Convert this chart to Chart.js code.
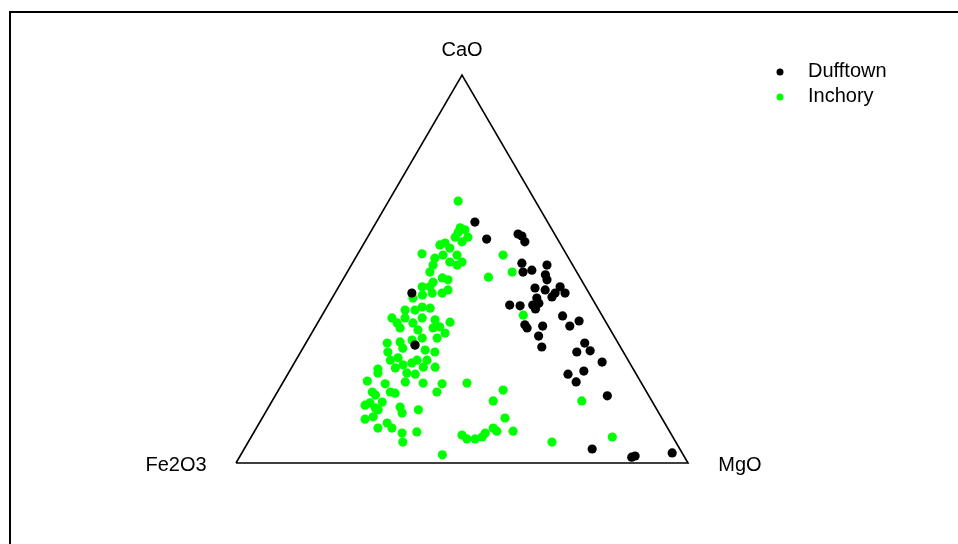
<!DOCTYPE html>
<html>
<head>
<meta charset="utf-8">
<script src="https://cdn.jsdelivr.net/npm/chart.js@4.4.1/dist/chart.umd.min.js"></script>
<style>
  body { margin: 0; background: #fff; }
  #wrap { width: 958px; height: 544px; }
</style>
</head>
<body>
<div id="wrap"><canvas id="myChart" width="958" height="544"></canvas></div>
<script>
// ternary diagram: CaO top, Fe2O3 left, MgO right
var groupNames = ['Dufftown', 'Inchory'];
var groupColors = ['#000000', '#00ff00'];
var vertexNames = ['CaO', 'Fe2O3', 'MgO'];

// each sample is [CaO %, MgO %], Fe2O3 % is the remainder
var dufftown = [
  [62.1, 21.8], [57.7, 26.6], [59.0, 32.9], [58.5, 34.0], [57.0, 35.4],
  [51.5, 37.5], [49.2, 38.9], [49.7, 40.6], [51.0, 43.3], [48.5, 44.2],
  [47.2, 45.2], [45.1, 43.6], [44.6, 46.1], [43.8, 48.7], [45.4, 49.0],
  [43.8, 50.9], [42.5, 45.3], [42.8, 48.5], [40.7, 40.2], [40.5, 42.6],
  [40.7, 45.3], [41.2, 46.4], [39.7, 46.4], [34.8, 47.0], [35.6, 46.1],
  [35.3, 50.2], [32.7, 50.6], [29.9, 52.7], [37.9, 53.3], [35.3, 56.2],
  [36.6, 57.6], [30.9, 61.7], [28.9, 63.9], [28.6, 61.1], [26.0, 68.0],
  [22.9, 62.0], [23.7, 65.1], [20.9, 64.8], [17.3, 73.5], [3.6, 77.0],
  [1.5, 86.8], [1.8, 87.4], [2.6, 95.2], [43.8, 17.0], [30.4, 24.4]
];

var inchory = [
  [67.5, 15.4], [59.5, 19.4], [60.1, 20.6], [58.2, 22.2], [58.2, 19.4],
  [56.7, 17.9], [56.2, 17.0], [55.4, 19.6], [53.9, 14.2], [53.6, 19.0],
  [53.6, 22.1], [52.8, 17.6], [51.8, 21.4], [51.0, 23.4], [51.0, 18.1],
  [49.2, 18.3], [47.7, 21.8], [47.2, 23.3], [46.6, 20.3], [45.4, 18.5],
  [45.4, 20.2], [60.6, 19.3], [57.0, 21.5], [51.8, 24.1], [53.6, 32.3],
  [49.2, 36.5], [47.9, 31.9], [43.3, 19.6], [43.8, 21.5], [43.8, 23.7],
  [44.6, 24.6], [42.5, 17.9], [39.4, 17.7], [39.4, 19.9], [40.2, 21.1],
  [39.9, 23.0], [37.4, 15.8], [36.1, 17.6], [37.4, 18.7], [36.1, 21.1],
  [37.4, 22.5], [36.9, 25.6], [36.3, 29.2], [34.3, 23.1], [34.8, 26.2],
  [35.1, 27.5], [33.5, 29.5], [34.8, 18.9], [31.7, 23.1], [32.2, 25.1],
  [32.2, 28.4], [30.9, 18.0], [31.2, 20.7], [28.6, 19.3], [29.6, 22.1],
  [29.1, 27.3], [28.6, 29.7], [26.5, 20.9], [27.1, 22.3], [26.5, 26.8],
  [26.5, 29.0], [25.3, 24.3], [25.8, 26.0], [24.7, 31.7], [24.2, 19.3],
  [24.5, 23.0], [30.4, 24.4], [24.7, 29.1], [23.2, 19.8], [23.2, 26.2],
  [22.9, 28.2], [21.1, 18.5], [20.4, 22.8], [20.9, 27.0], [20.6, 31.1],
  [20.4, 35.4], [18.3, 25.0], [18.0, 26.2], [18.3, 21.0], [17.5, 22.1],
  [18.3, 35.3], [20.6, 40.8], [15.5, 21.9], [15.7, 24.5], [14.9, 21.1],
  [14.2, 23.7], [14.4, 29.1], [12.9, 30.3], [13.7, 33.5], [13.7, 24.6],
  [11.3, 22.9], [11.9, 24.4], [9.0, 26.9], [10.3, 28.3], [9.0, 30.0],
  [7.7, 32.9], [8.0, 36.0], [5.4, 34.2], [2.1, 44.6], [7.2, 46.4],
  [6.2, 48.0], [18.8, 49.7], [16.0, 48.9], [16.0, 68.5], [11.6, 53.7],
  [9.0, 52.4], [8.2, 53.6], [8.2, 57.2], [7.7, 51.3], [6.2, 49.8],
  [6.7, 51.1], [5.4, 67.2], [6.7, 79.9], [38.1, 44.5]
];

// triangle outline in the same [CaO, MgO] terms: Fe2O3, MgO, CaO, back
var outline = [[0, 0], [0, 100], [100, 0], [0, 0]];

function toXY(p) {
  return { x: p[1] + p[0] / 2, y: p[0] };
}

var ternaryDecor = {
  id: 'ternaryDecor',
  afterDraw: function(chart) {
    var c = chart.ctx;
    var xs = chart.scales.x, ys = chart.scales.y;
    c.save();
    // outer frame
    c.strokeStyle = '#000';
    c.lineWidth = 2;
    c.beginPath();
    c.moveTo(10, 544);
    c.lineTo(10, 12);
    c.lineTo(958, 12);
    c.stroke();

    c.fillStyle = '#000';
    c.font = '20px "Liberation Sans", Arial, sans-serif';
    c.textBaseline = 'middle';
    c.textAlign = 'center';
    var top = toXY([100, 0]), left = toXY([0, 0]), right = toXY([0, 100]);
    c.fillText(vertexNames[0], xs.getPixelForValue(top.x), ys.getPixelForValue(top.y) - 25);
    c.fillText(vertexNames[1], xs.getPixelForValue(left.x) - 60, ys.getPixelForValue(left.y) + 2);
    c.fillText(vertexNames[2], xs.getPixelForValue(right.x) + 52, ys.getPixelForValue(right.y) + 2);

    // legend
    c.textAlign = 'left';
    for (var i = 0; i < groupNames.length; i++) {
      var ly = 72 + i * 25;
      c.fillStyle = groupColors[i];
      c.beginPath();
      c.arc(780, ly, 3.5, 0, Math.PI * 2);
      c.fill();
      c.fillStyle = '#000';
      c.fillText(groupNames[i], 808, ly - 1);
    }
    c.restore();
  }
};

var ctx = document.getElementById('myChart').getContext('2d');
var myChart = new Chart(ctx, {
  type: 'scatter',
  data: {
    datasets: [{
      label: 'outline',
      data: outline.map(toXY),
      showLine: true,
      borderColor: '#000',
      borderWidth: 1.6,
      pointRadius: 0,
      fill: false
    }, {
      label: groupNames[0],
      data: dufftown.map(toXY),
      backgroundColor: groupColors[0],
      borderColor: groupColors[0],
      pointRadius: 4.6,
      borderWidth: 0
    }, {
      label: groupNames[1],
      data: inchory.map(toXY),
      backgroundColor: groupColors[1],
      borderColor: groupColors[1],
      pointRadius: 4.6,
      borderWidth: 0
    }]
  },
  options: {
    responsive: false,
    devicePixelRatio: 1,
    animation: false,
    layout: { padding: 0, autoPadding: false },
    plugins: {
      legend: { display: false },
      tooltip: { enabled: false }
    },
    scales: {
      x: { type: 'linear', display: false, min: -52.21, max: 159.73 },
      y: { type: 'linear', display: false, min: -20.88, max: 119.33 }
    }
  },
  plugins: [ternaryDecor]
});
</script>
</body>
</html>
